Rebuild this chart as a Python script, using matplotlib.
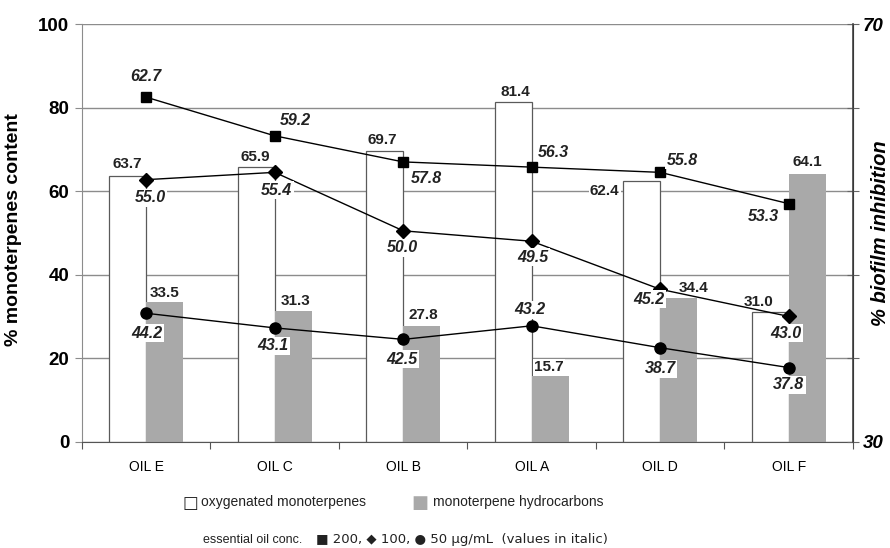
import numpy as np
import matplotlib
matplotlib.use('Agg')
import matplotlib.pyplot as plt

plt.rcParams['font.family'] = ['Liberation Sans Narrow', 'Liberation Sans', 'DejaVu Sans']

# data
oils = ['OIL E', 'OIL C', 'OIL B', 'OIL A', 'OIL D', 'OIL F']
oxygenated = [63.7, 65.9, 69.7, 81.4, 62.4, 31.0]  # % oxygenated monoterpenes
hydrocarbons = [33.5, 31.3, 27.8, 15.7, 34.4, 64.1]  # % monoterpene hydrocarbons
# % biofilm inhibition, marker heights as drawn (they drift a bit from the printed values)
inh_200 = [63.0, 59.3, 56.8, 56.3, 55.8, 52.8]  # 200 ug/mL
inh_100 = [55.1, 55.8, 50.2, 49.2, 44.6, 42.0]  # 100 ug/mL
inh_50 = [42.3, 40.9, 39.8, 41.1, 39.0, 37.1]  # 50 ug/mL
# printed values
inh_200_text = ['62.7', '59.2', '57.8', '56.3', '55.8', '53.3']
inh_100_text = ['55.0', '55.4', '50.0', '49.5', '45.2', '43.0']
inh_50_text = ['44.2', '43.1', '42.5', '43.2', '38.7', '37.8']

# label offsets in pixels (dx, dy), dy up
off_ox = [(0, 12), (-1, 10), (-2, 11), (2, 10), (-37, -10), (-12, 10)]
off_hc = [(0, 9), (2, 10), (2, 11), (-1, 9), (15, 10), (0, 12)]
off_200 = [(0, 21), (21, 15), (23, -17), (22, 15), (22, 12), (-25, -13)]
off_100 = [(4, -18), (2, -18), (-1, -17), (1, -16), (-11, -10), (-3, -17)]
off_50 = [(1, -20), (-2, -18), (-1, -20), (-2, 16), (0, -21), (0, -17)]

x = np.arange(len(oils))
w = 0.288

fig = plt.figure(figsize=(8.9, 5.48), dpi=100)
ax = fig.add_axes([0.0921, 0.194, 0.8663, 0.762])
ax2 = ax.twinx()

grid_col = '#8c8c8c'
ax.set_axisbelow(True)
ax.yaxis.grid(True, color=grid_col, linewidth=1)
ax.bar(x, oxygenated, width=-w, align='edge', color='white', edgecolor='#5a5a5a', linewidth=0.9, zorder=2)
ax.bar(x, hydrocarbons, width=w, align='edge', color='#a9a9a9', edgecolor='none', zorder=2)

ax.set_xlim(-0.5, 5.5)
ax.set_ylim(0, 100)
ax.set_yticks([0, 20, 40, 60, 80, 100])
ax.tick_params(axis='y', labelsize=13.5, length=5, color=grid_col, pad=4)
for t in ax.get_yticklabels():
    t.set_fontweight('bold')
ax.set_xticks(np.arange(-0.5, 6.0, 1.0))
ax.set_xticklabels([])
ax.set_xticks(x, minor=True)
ax.set_xticklabels(oils, minor=True, fontsize=10)
ax.tick_params(axis='x', which='major', length=5, color='#555555')
ax.tick_params(axis='x', which='minor', length=0, pad=13)
ax.set_ylabel('% monoterpenes content', fontsize=14, fontweight='bold')
ax.yaxis.set_label_coords(-0.078, 0.507)

for s in ['top']:
    ax.spines[s].set_visible(False)
    ax2.spines[s].set_visible(False)
ax.spines['left'].set_color(grid_col)
ax.spines['bottom'].set_color('#555555')
ax2.spines['left'].set_visible(False)
ax2.spines['bottom'].set_visible(False)
ax2.spines['right'].set_color('#444444')
ax2.spines['right'].set_linewidth(1.2)

box = dict(facecolor='white', edgecolor='none', pad=1)
for i in range(len(oils)):
    ax.annotate(f'{oxygenated[i]:.1f}', (x[i] - w / 2, oxygenated[i]), xytext=off_ox[i],
                textcoords='offset pixels', ha='center', va='center', fontsize=11,
                fontweight='bold', color='#222222', bbox=box, zorder=3)
    ax.annotate(f'{hydrocarbons[i]:.1f}', (x[i] + w / 2, hydrocarbons[i]), xytext=off_hc[i],
                textcoords='offset pixels', ha='center', va='center', fontsize=11,
                fontweight='bold', color='#222222', bbox=box, zorder=3)

ax2.set_ylim(30, 70)
ax2.set_yticks([30, 38, 46, 54, 62, 70])
ax2.set_yticklabels(['30', '', '', '', '', '70'])
ax2.tick_params(axis='y', labelsize=13.5, length=8, direction='inout', color='#666666', pad=3)
for t in ax2.get_yticklabels():
    t.set_fontweight('bold')
    t.set_fontstyle('italic')
ax2.set_ylabel('% biofilm inhibition', fontsize=14.5, fontweight='bold', fontstyle='italic')
ax2.yaxis.set_label_coords(1.024, 0.5)

ax2.plot(x, inh_200, color='black', linewidth=1, marker='s', markersize=7.5, zorder=4)
ax2.plot(x, inh_100, color='black', linewidth=1, marker='D', markersize=7, zorder=4)
ax2.plot(x, inh_50, color='black', linewidth=1, marker='o', markersize=8, zorder=4)

lab = dict(textcoords='offset pixels', ha='center', va='center', fontsize=11.5,
           fontweight='bold', fontstyle='italic', color='#222222', bbox=box, zorder=5)
for i in range(len(oils)):
    ax2.annotate(inh_200_text[i], (x[i], inh_200[i]), xytext=off_200[i], **lab)
    ax2.annotate(inh_100_text[i], (x[i], inh_100[i]), xytext=off_100[i], **lab)
    ax2.annotate(inh_50_text[i], (x[i], inh_50[i]), xytext=off_50[i], **lab)

# legend lines under the chart
leg = dict(fontsize=10, color='#222222', va='center')
fig.text(182 / 890, 1 - 503 / 548, '\u25a1', fontsize=12, va='center', color='#222222', family='DejaVu Sans')
fig.text(201 / 890, 1 - 502 / 548, 'oxygenated monoterpenes', **leg)
fig.text(411 / 890, 1 - 503 / 548, '\u25a0', fontsize=13, va='center', color='#a9a9a9', family='DejaVu Sans')
fig.text(433 / 890, 1 - 502 / 548, 'monoterpene hydrocarbons', **leg)
fig.text(203 / 890, 1 - 540 / 548, 'essential oil conc.', fontsize=9, color='#222222', va='center')
fig.text(316 / 890, 1 - 540 / 548, '\u25a0 200, \u25c6 100, \u25cf 50 \u00b5g/mL  (values in italic)',
         fontsize=9.5, color='#222222', va='center', family=['DejaVu Sans'])

fig.savefig('out.png', dpi=100)
